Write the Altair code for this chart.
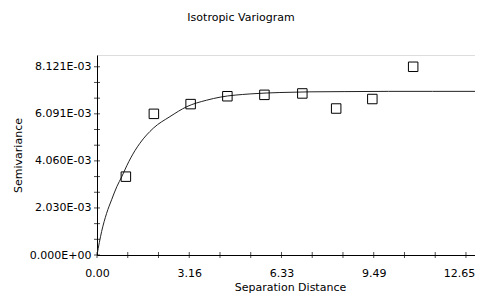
import altair as alt
import pandas as pd

# experimental variogram (lag distance, semivariance)
lag_h = [0.99, 1.95, 3.21, 4.47, 5.74, 7.04, 8.20, 9.44, 10.84]
semivar = [3.38e-3, 6.09e-3, 6.51e-3, 6.85e-3, 6.91e-3, 6.97e-3, 6.32e-3, 6.73e-3, 8.121e-3]

# fitted model curve
model_h = [0.0, 0.16, 0.33, 0.50, 0.68, 0.85, 1.02, 1.30, 1.47, 1.93, 2.50, 3.08,
           3.76, 4.22, 5.25, 6.27, 7.30, 8.50, 10.00, 11.50, 13.00]
model_g = [0.0, 1.02e-3, 1.80e-3, 2.38e-3, 2.95e-3, 3.38e-3, 3.85e-3, 4.50e-3, 4.82e-3,
           5.47e-3, 5.97e-3, 6.40e-3, 6.68e-3, 6.81e-3, 6.95e-3, 7.01e-3, 7.04e-3,
           7.05e-3, 7.06e-3, 7.06e-3, 7.06e-3]

# axis ticks and labels
x_major = [0.0, 3.1625, 6.325, 9.4875, 12.65]
x_labels = ["0.00", "3.16", "6.33", "9.49", "12.65"]
x_ticks = [0.0, 1.054, 2.108, 3.1625, 4.217, 5.271, 6.325, 7.379, 8.433, 9.4875,
           10.542, 11.596, 12.65]
y_major = [0.0, 0.00203025, 0.0040605, 0.00609075, 0.008121]
y_labels = ["0.000E+00", "2.030E-03", "4.060E-03", "6.091E-03", "8.121E-03"]
y_ticks = [0.0, 0.00067675, 0.0013535, 0.00203025, 0.002707, 0.00338375, 0.0040605,
           0.00473725, 0.005414, 0.00609075, 0.0067675, 0.00744425, 0.008121]

x_domain = [0, 12.96]
y_domain = [0, 0.008629]

FONT = "DejaVu Sans"


def label_expr(vals, labels, tol):
    expr = "''"
    for v, l in reversed(list(zip(vals, labels))):
        expr = f"abs(datum.value - {v!r}) < {tol} ? '{l}' : ({expr})"
    return expr


pts = pd.DataFrame({"h": lag_h, "g": semivar})
model = pd.DataFrame({"h": model_h, "g": model_g})
xt = pd.DataFrame({"v": x_ticks})
yt = pd.DataFrame({"v": y_ticks})

xs = alt.Scale(domain=x_domain, nice=False, zero=False, clamp=True)
ys = alt.Scale(domain=y_domain, nice=False, zero=False)

x_axis = alt.Axis(
    values=x_major, labelExpr=label_expr(x_major, x_labels, 1e-4),
    ticks=False, tickSize=0, grid=False, domainColor="#000", domainWidth=1,
    labelFont=FONT, labelFontSize=11, labelColor="#000", labelPadding=21,
    labelBaseline="alphabetic", labelFlush=False, labelOverlap=False,
    labelOffset={"condition": {"test": "datum.value > 12", "value": -7}, "value": 0},
    title="Separation Distance", titleFont=FONT, titleFontSize=11,
    titleFontWeight="normal", titleColor="#000", titleX=193, titleY=35,
    titleAlign="center", titleBaseline="alphabetic",
)
y_axis = alt.Axis(
    values=y_major, labelExpr=label_expr(y_major, y_labels, 1e-7),
    ticks=False, tickSize=0, grid=False, domainColor="#000", domainWidth=1,
    labelFont=FONT, labelFontSize=11, labelColor="#000", labelPadding=6,
    labelBaseline="middle", labelFlush=False, labelOverlap=False,
    title="Semivariance", titleFont=FONT, titleFontSize=11,
    titleFontWeight="normal", titleColor="#000", titleX=-76, titleY=100,
    titleAngle=270, titleAlign="center", titleBaseline="alphabetic",
)

line = alt.Chart(model).mark_line(color="#222", strokeWidth=1, interpolate="monotone", clip=True).encode(
    x=alt.X("h:Q", scale=xs, axis=x_axis),
    y=alt.Y("g:Q", scale=ys, axis=y_axis),
)
points = alt.Chart(pts).mark_point(
    shape="square", filled=False, size=90, color="#000", strokeWidth=1, opacity=1
).encode(
    x=alt.X("h:Q", scale=xs, axis=x_axis),
    y=alt.Y("g:Q", scale=ys, axis=y_axis),
)
xtick_marks = alt.Chart(xt).mark_tick(orient="vertical", size=6, thickness=1, color="#000").encode(
    x=alt.X("v:Q", scale=xs, axis=x_axis),
    y=alt.YDatum(0, type="quantitative", scale=ys, axis=y_axis),
)
ytick_marks = alt.Chart(yt).mark_tick(orient="horizontal", size=6, thickness=1, color="#000").encode(
    y=alt.Y("v:Q", scale=ys, axis=y_axis),
    x=alt.XDatum(0, type="quantitative", scale=xs, axis=x_axis),
)

chart = alt.layer(line, points, xtick_marks, ytick_marks).properties(
    width=378,
    height=200,
    autosize=alt.AutoSizeParams(type="none"),
    padding={"left": 89, "top": 47, "right": 0, "bottom": 38},
    title=alt.TitleParams(
        "Isotropic Variogram", font=FONT, fontSize=11, fontWeight="normal",
        color="#000", anchor="middle", dx=-45, dy=-28,
    ),
).configure_view(stroke=None).configure(background="white")

chart.save("out.html", embed_options={"renderer": "svg", "actions": False})
